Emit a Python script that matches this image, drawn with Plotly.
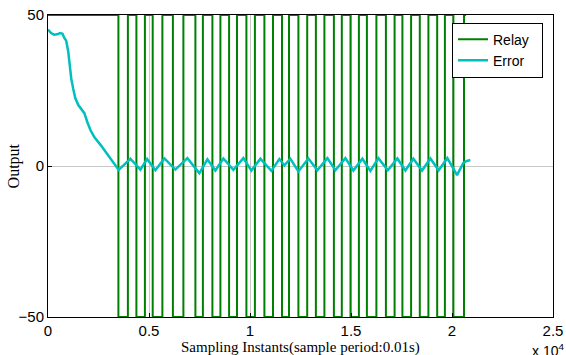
import plotly.graph_objects as go

# Relay switching instants (samples) and levels
relay_x = [0, 3485, 3955, 4376, 4797, 5183, 5663, 6183, 6703, 7297, 7668,
           8139, 8535, 8965, 9356, 9822, 10243, 10713, 11139, 11584, 11931,
           12396, 12832, 13262, 13683, 14153, 14545, 14975, 15391, 15787, 16257,
           16728, 17158, 17545, 17975, 18406, 18832, 19267, 19648, 20069, 20594,
           20700]
relay_y = [50, -50, 50, -50, 50, -50, 50, -50, 50, -50, 50,
           -50, 50, -50, 50, -50, 50, -50, 50, -50, 50,
           -50, 50, -50, 50, -50, 50, -50, 50, -50, 50,
           -50, 50, -50, 50, -50, 50, -50, 50, -50, 50,
           50]

# Error signal (samples, value)
error_x = [0, 150, 300, 450, 600, 720, 800, 900, 1000, 1080, 1150, 1250, 1350,
           1500, 1650, 1800, 1950, 2100, 2300, 2450, 2600, 2850, 3050, 3250,
           3500, 4079, 4574, 4905, 5316, 5762, 6306, 6900, 7494, 7890, 8286,
           8682, 9177, 9672, 10068, 10514, 11058, 11454, 11702, 11999, 12395,
           12890, 13336, 13831, 14227, 14722, 15118, 15563, 15959, 16355, 16825,
           17295, 17691, 18087, 18518, 18929, 19340, 19770, 20250, 20562, 20711,
           20909]
error_y = [45.2, 44.0, 43.5, 43.6, 44.0, 43.8, 42.5, 41.5, 38, 33, 29, 25.5, 22.5,
           20.2, 19, 17.5, 14.5, 11.9, 9.5, 8.3, 7, 4.7, 2.8, 0.9,
           -1.3, 2.4, -1.2, 2.3, -1.4, 2.5, -1.2, 2.6, -2.4, 2.2, -1.5,
           2.5, -1.3, 2.6, -1.5, 2.4, -1.6, 2.3, 0.2, 2.4, -1.8,
           2.5, -1.4, 2.6, -1.4, 2.6, -1.5, 2.4, -1.6, 2.6, -1.4,
           2.5, -1.5, 2.4, -1.5, 2.5, -1.4, 2.6, -3.0, 1.0, 1.6,
           2.0]

x_ticks = [0, 5000, 10000, 15000, 20000, 25000]
x_tick_text = ["0", "0.5", "1", "1.5", "2", "2.5"]
y_ticks = [-50, 0, 50]

fig = go.Figure()
fig.add_trace(go.Scatter(x=relay_x, y=relay_y, mode="lines", name="Relay\u00a0\u00a0",
                         line=dict(color="#008000", width=2, shape="hv")))
fig.add_trace(go.Scatter(x=error_x, y=error_y, mode="lines", name="Error",
                         line=dict(color="#00BFBF", width=2.5)))

axis_common = dict(showline=True, linecolor="black", linewidth=1, mirror=True,
                   ticks="inside", ticklen=4, tickcolor="black",
                   showgrid=True, gridcolor="#C8C8C8", gridwidth=1,
                   zeroline=False, automargin=False,
                   tickfont=dict(family="Liberation Sans, Arial", size=15, color="black"))

fig.update_xaxes(range=[0, 25000], tickvals=x_ticks, ticktext=x_tick_text, **axis_common)
fig.update_yaxes(range=[-50, 50], tickvals=y_ticks, **axis_common)

fig.update_layout(
    width=566, height=355,
    margin=dict(l=48, r=13, t=15, b=38, autoexpand=False),
    paper_bgcolor="white", plot_bgcolor="white",
    showlegend=True,
    legend=dict(x=0.80, y=0.975, xanchor="left", yanchor="top",
                bgcolor="white", bordercolor="black", borderwidth=1,
                font=dict(family="Liberation Sans, Arial", size=14, color="black"),
                tracegroupgap=0, itemwidth=30),
    annotations=[
        dict(text="Sampling Instants(sample period:0.01s)", xref="paper", yref="paper",
             x=0.5, y=-0.102, xanchor="center", yanchor="middle", showarrow=False,
             font=dict(family="Liberation Serif, Times New Roman", size=15, color="black")),
        dict(text="Output", xref="paper", yref="paper", x=-0.0665, y=0.5,
             xanchor="center", yanchor="middle", textangle=-90, showarrow=False,
             font=dict(family="Liberation Serif, Times New Roman", size=16, color="black")),
        dict(text="x 10<sup>4</sup>", xref="paper", yref="paper", x=0.955, y=-0.072,
             xanchor="left", yanchor="top", showarrow=False,
             font=dict(family="Liberation Sans, Arial", size=14, color="black")),
    ],
)

fig.write_html("out.html", config={"displayModeBar": False})
